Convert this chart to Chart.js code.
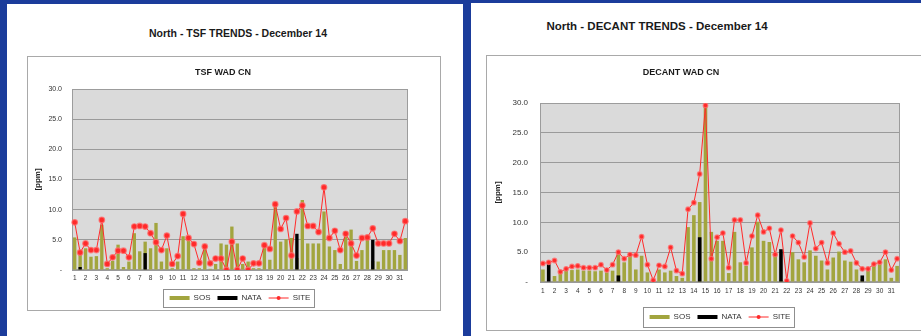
<!DOCTYPE html>
<html>
<head>
<meta charset="utf-8">
<title>North trends - December 14</title>
<script src="https://cdn.jsdelivr.net/npm/chart.js@4.4.1/dist/chart.umd.min.js"></script>
<style>
  html, body { margin: 0; padding: 0; }
  body {
    width: 921px; height: 336px; position: relative; overflow: hidden;
    background: #1b3c9b;
    font-family: "Liberation Sans", Arial, sans-serif;
    color: #1a1a1a;
  }
  .panel { position: absolute; background: #fff; }
  .head { position: absolute; font-weight: bold; white-space: nowrap; transform: translate(-50%, -50%); }
  .frame { position: absolute; border: 1px solid #a9a9a9; background: #fff; }
  .frame canvas { position: absolute; left: 0; top: 0; }
</style>
</head>
<body>
<div class="panel" style="left:7px; top:4px; width:456px; height:340px;"></div>
<div class="panel" style="left:471px; top:3px; width:460px; height:340px;"></div>

<div class="head" style="left:238px; top:33px; font-size:10.5px;">North - TSF TRENDS - December 14</div>
<div class="head" style="left:657px; top:26px; font-size:11.5px;">North - DECANT TRENDS - December 14</div>

<div class="frame" style="left:27px; top:56px; width:412px; height:253px;">
  <canvas id="tsfChart" width="412" height="255"></canvas>
</div>
<div class="frame" style="left:486px; top:55px; width:440px; height:274px;">
  <canvas id="decantChart" width="440" height="275"></canvas>
</div>

<div class="head" style="left:223px; top:72px; font-size:9px;">TSF WAD CN</div>
<div class="head" style="left:681px; top:72px; font-size:9px;">DECANT WAD CN</div>

<script>
// two samples per day, day number shown on the first one
const days = ['1','','2','','3','','4','','5','','6','','7','','8','','9','','10','',
              '11','','12','','13','','14','','15','','16','','17','','18','','19','','20','',
              '21','','22','','23','','24','','25','','26','','27','','28','','29','','30','',
              '31',''];

// TSF WAD CN (ppm)
const tsfSos = [5.4, 2.5, 3.6, 2.2, 2.3, 7.5, 0.3, 1.5, 4.2, 0.5,
                1.4, 6.1, 3.1, 4.7, 3.6, 7.8, 1.4, 3.6, 0.3, 1.4,
                5.6, 5.3, 0.3, 0.3, 3.6, 0.2, 1.0, 4.4, 4.2, 7.2,
                4.4, 1.0, 1.4, 0.3, 0.3, 4.2, 1.7, 11.1, 4.7, 5.1,
                5.3, 2.0, 11.6, 4.4, 4.4, 4.4, 9.7, 3.9, 3.3, 1.0,
                6.4, 6.7, 1.5, 3.3, 5.0, 1.5, 1.4, 3.3, 3.3, 3.3,
                2.5, 5.3];
const tsfNata = [null, 0.5, null, null, null, null, null, null, null, null,
                 null, null, null, 2.8, null, null, null, null, null, null,
                 null, null, null, null, null, null, null, null, null, null,
                 null, null, null, null, null, null, null, null, null, null,
                 null, 6.0, null, null, null, null, null, null, null, null,
                 null, null, null, null, null, 5.0, null, null, null, null,
                 null, null];
const tsfSite = [7.9, 2.9, 4.4, 3.3, 3.3, 8.3, 1.0, 2.1, 3.2, 3.2,
                 2.1, 7.2, 7.3, 7.2, 6.1, 4.6, 3.3, 5.7, 1.0, 2.3,
                 9.3, 5.3, 4.3, 1.2, 3.9, 1.1, 1.9, 1.9, 0.0, 4.7,
                 0.0, 1.9, 0.0, 1.1, 1.1, 4.1, 3.5, 10.9, 6.8, 8.6,
                 2.4, 9.7, 10.7, 7.3, 7.3, 6.3, 13.7, 5.3, 6.5, 3.3,
                 6.0, 4.4, 2.4, 5.3, 5.4, 6.9, 4.4, 4.4, 4.4, 6.0,
                 4.8, 8.1];

// DECANT WAD CN (ppm)
const decantSos = [2.1, 0.0, 1.0, 1.6, 1.9, 2.0, 2.1, 1.9, 1.9, 1.8,
                   1.9, 1.6, 1.9, 4.7, 3.3, 4.6, 2.1, 4.4, 1.6, 0.1,
                   2.1, 1.6, 1.9, 1.0, 0.7, 9.2, 11.2, 13.4, 29.5, 8.4,
                   6.9, 6.9, 1.5, 8.4, 3.3, 2.7, 5.8, 10.1, 6.9, 6.7,
                   5.0, 0.3, 0.1, 5.0, 3.8, 3.3, 5.3, 4.4, 3.6, 2.1,
                   4.1, 5.1, 3.6, 3.4, 2.1, 0.5, 1.9, 2.7, 3.0, 3.8,
                   0.7, 2.7];
const decantNata = [null, 3.4, null, null, null, null, null, null, null, null,
                    null, null, null, 1.1, null, null, null, null, null, null,
                    null, null, null, null, null, null, null, 7.5, null, null,
                    null, null, null, null, null, null, null, null, null, null,
                    null, 5.5, null, null, null, null, null, null, null, null,
                    null, null, null, null, null, 1.1, null, null, null, null,
                    null, null];
const decantSite = [3.1, 3.3, 3.6, 1.7, 2.2, 2.6, 2.7, 2.4, 2.4, 2.4,
                    2.9, 2.0, 2.9, 5.0, 3.9, 4.6, 4.5, 7.6, 2.9, 0.3,
                    2.8, 2.6, 5.8, 1.9, 1.4, 12.2, 13.3, 18.1, 29.6, 3.9,
                    7.5, 8.2, 2.4, 10.4, 10.4, 3.2, 7.7, 11.2, 8.4, 9.0,
                    4.6, 8.7, 0.2, 7.7, 6.6, 4.2, 9.9, 5.6, 6.6, 3.2,
                    8.2, 6.4, 5.0, 5.2, 3.2, 2.2, 2.2, 3.0, 3.3, 5.0,
                    2.0, 3.9];

const OLIVE = '#a2a53e';
const RED = '#ff2a2a';

Chart.defaults.font.family = "'Liberation Sans', Arial, sans-serif";
Chart.defaults.color = '#222';

// grey plot area with a thin frame, like the spreadsheet default
const plotArea = {
    id: 'plotArea',
    beforeDraw(chart) {
        const a = chart.chartArea, ctx = chart.ctx;
        ctx.save();
        ctx.fillStyle = '#dadada';
        ctx.fillRect(a.left, a.top, a.right - a.left, a.bottom - a.top);
        ctx.restore();
    },
    beforeDatasetsDraw(chart) {
        const a = chart.chartArea, ctx = chart.ctx;
        ctx.save();
        ctx.strokeStyle = '#9c9c9c';
        ctx.lineWidth = 1;
        ctx.strokeRect(Math.round(a.left) + 0.5, Math.round(a.top) + 0.5,
                       Math.round(a.right - a.left) - 1, Math.round(a.bottom - a.top) - 1);
        ctx.restore();
    }
};

// box round the legend + line-with-marker swatch for SITE
const legendBox = {
    id: 'legendBox',
    afterDraw(chart) {
        const lg = chart.legend, boxes = lg.legendHitBoxes;
        if (!boxes || !boxes.length) return;
        const ctx = chart.ctx;
        let l = Infinity, r = -Infinity, t = Infinity, b = -Infinity;
        boxes.forEach(h => {
            l = Math.min(l, h.left); r = Math.max(r, h.left + h.width);
            t = Math.min(t, h.top); b = Math.max(b, h.top + h.height);
        });
        const padX = chart.options.plugins.legendBox.padX, padY = chart.options.plugins.legendBox.padY;
        ctx.save();
        ctx.strokeStyle = '#8f8f8f';
        ctx.lineWidth = 1;
        ctx.strokeRect(Math.round(l - padX) + 0.5, Math.round(t - padY) + 0.5,
                       Math.round(r - l + 2 * padX - 4), Math.round(b - t + 2 * padY));
        lg.legendItems.forEach((it, i) => {
            if (chart.data.datasets[it.datasetIndex].type !== 'line') return;
            const h = boxes[i], y = h.top + h.height / 2, w = lg.options.labels.boxWidth;
            ctx.strokeStyle = RED;
            ctx.lineWidth = 1;
            ctx.beginPath();
            ctx.moveTo(h.left, y);
            ctx.lineTo(h.left + w, y);
            ctx.stroke();
            ctx.fillStyle = RED;
            ctx.beginPath();
            ctx.arc(h.left + w / 2, y, 2, 0, Math.PI * 2);
            ctx.fill();
        });
        ctx.restore();
    }
};

function trendChart(id, sos, nata, site, s) {
    return new Chart(document.getElementById(id), {
        data: {
            labels: days,
            datasets: [
                { type: 'bar', label: 'SOS', data: sos, backgroundColor: OLIVE,
                  grouped: false, categoryPercentage: 1, barPercentage: 0.62, order: 3 },
                { type: 'bar', label: 'NATA', data: nata, backgroundColor: '#000',
                  grouped: false, categoryPercentage: 1, barPercentage: 0.62, order: 2 },
                { type: 'line', label: 'SITE', data: site, borderColor: RED, borderWidth: 1,
                  pointRadius: s.dot, pointBackgroundColor: RED,
                  pointBorderColor: 'rgba(255,110,110,0.75)', pointBorderWidth: 1.2,
                  tension: 0, order: 1 }
            ]
        },
        options: {
            responsive: false,
            animation: false,
            devicePixelRatio: 1,
            layout: { padding: { left: 0, right: s.padRight, top: s.padTop, bottom: 0 } },
            plugins: {
                tooltip: { enabled: false },
                title: { display: false },
                legend: {
                    position: 'bottom',
                    fullSize: false,
                    labels: {
                        boxWidth: 20, boxHeight: 4, padding: 7,
                        font: { size: s.legendFont },
                        color: '#333',
                        sort: (a, b) => a.datasetIndex - b.datasetIndex,
                        generateLabels(chart) {
                            const items = Chart.defaults.plugins.legend.labels.generateLabels(chart);
                            items.forEach(it => {
                                if (chart.data.datasets[it.datasetIndex].type === 'line') {
                                    it.fillStyle = 'rgba(0,0,0,0)';
                                    it.strokeStyle = 'rgba(0,0,0,0)';
                                    it.lineWidth = 0;
                                } else {
                                    it.lineWidth = 0;
                                }
                            });
                            return items;
                        }
                    }
                },
                legendBox: { padX: 7, padY: s.legendPadY }
            },
            scales: {
                x: {
                    grid: { display: false, drawTicks: false },
                    border: { display: false },
                    ticks: { autoSkip: false, maxRotation: 0, minRotation: 0,
                             padding: s.xPad, font: { size: 6.5 }, color: '#333' },
                    afterFit(scale) { scale.height = s.xHeight; }
                },
                y: {
                    min: 0, max: 30,
                    grid: { color: '#9a9a9a', drawTicks: false },
                    border: { display: false },
                    ticks: {
                        stepSize: 5, padding: s.yPad, font: { size: s.yFont }, color: '#333',
                        callback: v => v === 0 ? '-' : v.toFixed(1)
                    },
                    title: { display: true, text: '[ppm]', font: { size: 8, weight: 'bold' },
                             color: '#222', padding: { top: s.yTitlePad, bottom: 0 } },
                    afterFit(scale) { scale.width = s.yWidth; }
                }
            }
        },
        plugins: [plotArea, legendBox]
    });
}

trendChart('tsfChart', tsfSos, tsfNata, tsfSite, {
    padRight: 32, padTop: 32, yWidth: 44, yPad: 10, yFont: 7, yTitlePad: 5,
    xHeight: 17, xPad: 4, legendFont: 8, legendPadY: 5, dot: 2.8
});
trendChart('decantChart', decantSos, decantNata, decantSite, {
    padRight: 27, padTop: 47, yWidth: 53, yPad: 12, yFont: 8, yTitlePad: 6,
    xHeight: 24, xPad: 5, legendFont: 8, legendPadY: 6, dot: 2.3
});
</script>
</body>
</html>
